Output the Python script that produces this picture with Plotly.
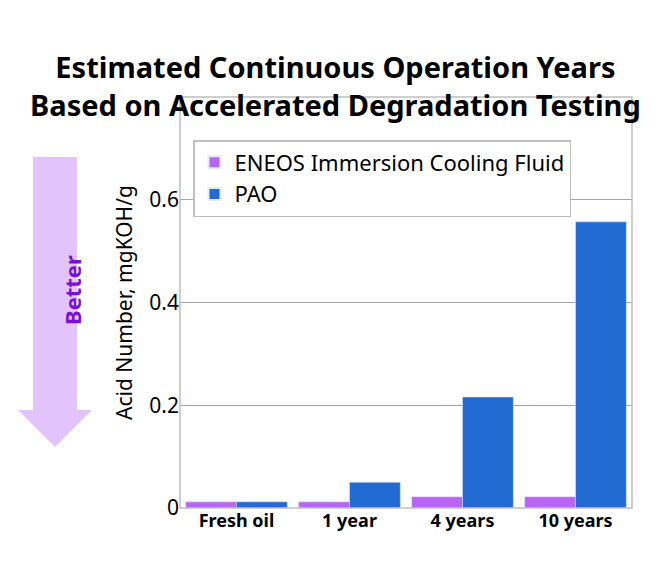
import plotly.graph_objects as go

categories = ["Fresh oil", "1 year", "4 years", "10 years"]
eneos = [0.012, 0.012, 0.022, 0.022]
pao = [0.012, 0.05, 0.216, 0.557]
y_ticks = [0, 0.2, 0.4, 0.6]
y_labels = ["0", "0.2", "0.4", "0.6"]

O = 8  # page body margin
W, H = 670 - 2 * O, 580 - 2 * O
L, R, T, B = 180 - O, 38 - O, 97 - O, 72 - O
pw, ph = W - L - R, H - T - B
def px(x): return (x - O - L) / pw
def py(y): return (H - B - (y - O)) / ph

fig = go.Figure()
fig.add_bar(x=categories, y=eneos, name="ENEOS Immersion Cooling Fluid", marker_color="#B866F2")
fig.add_bar(x=categories, y=pao, name="PAO", marker_color="#226BD3")

arrow = [(33,157),(77,157),(77,410),(92,410),(55,447),(18,410),(33,410)]
path = "M " + " L ".join(f"{px(x)},{py(y)}" for x, y in arrow) + " Z"
fig.add_shape(type="path", path=path, xref="paper", yref="paper",
              fillcolor="#E2C3FB", line=dict(width=0), layer="above")
fig.add_annotation(x=px(55), y=py(290), xref="paper", yref="paper", text="<b>Better</b>",
                   textangle=-90, showarrow=False, font=dict(size=22, color="#7A0FD9"))
fig.add_annotation(x=px(335), y=py(45), xref="paper", yref="paper",
                   text="<b>Estimated Continuous Operation Years<br>Based on Accelerated Degradation Testing</b>",
                   showarrow=False, font=dict(size=29), align="center")
fig.add_shape(type="rect", xref="paper", yref="paper", x0=0, x1=1, y0=0, y1=1,
              line=dict(color="#BFBFBF", width=1.5))

fig.update_layout(
    width=W, height=H, margin=dict(l=L, r=R, t=T, b=B),
    paper_bgcolor="white", plot_bgcolor="white",
    font=dict(family="Noto Sans", size=18, color="black"),
    barmode="group", bargap=0.1, bargroupgap=0.0, showlegend=True,
    legend=dict(x=px(193), y=py(140), xanchor="left", yanchor="top",
                bordercolor="#BFBFBF", borderwidth=1.5, bgcolor="white",
                font=dict(size=22), itemsizing="constant"),
    xaxis=dict(tickfont=dict(size=18), showline=False, ticks="",
               tickvals=categories, ticktext=[f"<b>{c}</b>" for c in categories]),
    yaxis=dict(range=[0, 0.8], tickvals=y_ticks, ticktext=y_labels,
               gridcolor="#A6A6A6", gridwidth=1, zeroline=False, ticks="",
               title=dict(text="Acid Number, mgKOH/g", font=dict(size=21), standoff=10),
               tickfont=dict(size=21)),
)
fig.write_html("out.html")
